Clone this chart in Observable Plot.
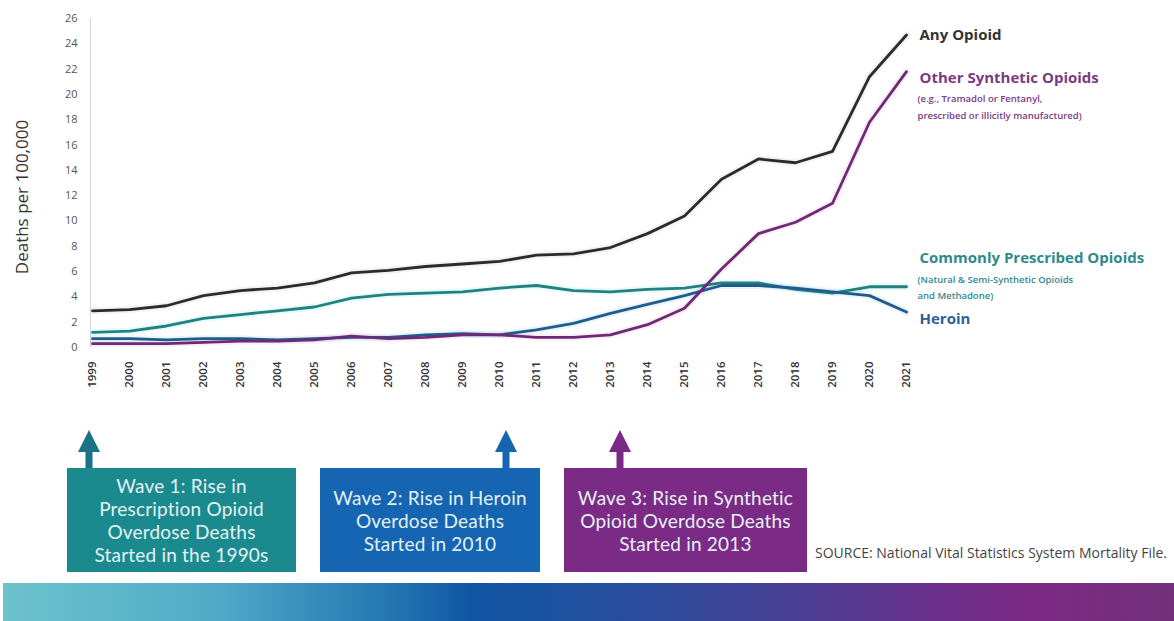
<!DOCTYPE html>
<html><head><meta charset="utf-8">
<script src="https://cdn.jsdelivr.net/npm/d3@7"></script>
<script src="https://cdn.jsdelivr.net/npm/@observablehq/plot@0.6"></script>
<style>
body{margin:0;background:#fff;font-family:"Open Sans",sans-serif;}
#wrap{position:relative;width:1174px;height:621px;overflow:hidden;background:#fff;}
#chart{position:absolute;left:0;top:0;}
#arrows{position:absolute;left:0;top:0;}
.box{position:absolute;top:468px;height:104px;color:#e4f2f4;display:flex;align-items:center;justify-content:center;text-align:center;font-family:Lato,sans-serif;font-size:19px;line-height:23px;letter-spacing:0.2px;}
#source{position:absolute;left:815px;top:543px;font-size:14px;color:#444;white-space:nowrap;letter-spacing:0px;}
#band{position:absolute;left:3px;right:0;top:583px;bottom:0;background:linear-gradient(90deg,#6cc3cd 0%,#52aac8 18%,#1f6fb0 35%,#0f56a2 40%,#2b4c9c 55%,#4a3e94 68%,#6b2f8a 80%,#7c2a84 88%,#74307c 100%);}
</style></head>
<body>
<div id="wrap">
  <div id="chart"></div>
  <svg id="arrows" width="1174" height="621"></svg>
  <div id="boxes"></div>
  <div id="source">SOURCE: National Vital Statistics System Mortality File.</div>
  <div id="band"></div>
</div>
<script>
// ---- data ----
const years = [1999,2000,2001,2002,2003,2004,2005,2006,2007,2008,2009,2010,2011,2012,2013,2014,2015,2016,2017,2018,2019,2020,2021];
const anyOpioid          = [2.9,3.0,3.3,4.1,4.5,4.7,5.1,5.9,6.1,6.4,6.6,6.8,7.3,7.4,7.9,9.0,10.4,13.3,14.9,14.6,15.5,21.4,24.7];
const otherSynthetic     = [0.3,0.3,0.3,0.4,0.5,0.5,0.6,0.9,0.7,0.8,1.0,1.0,0.8,0.8,1.0,1.8,3.1,6.2,9.0,9.9,11.4,17.8,21.8];
const commonlyPrescribed = [1.2,1.3,1.7,2.3,2.6,2.9,3.2,3.9,4.2,4.3,4.4,4.7,4.9,4.5,4.4,4.6,4.7,5.1,5.1,4.6,4.3,4.8,4.8];
const heroin             = [0.7,0.7,0.6,0.7,0.7,0.6,0.7,0.8,0.8,1.0,1.1,1.0,1.4,1.9,2.7,3.4,4.1,4.9,4.9,4.7,4.4,4.1,2.8];
const yTicks = [0,2,4,6,8,10,12,14,16,18,20,22,24,26];
const seriesNames = ["Commonly Prescribed Opioids","Heroin","Other Synthetic Opioids","Any Opioid"];
const seriesValues = [commonlyPrescribed, heroin, otherSynthetic, anyOpioid];
const subLabels = {
  "Other Synthetic Opioids": "(e.g., Tramadol or Fentanyl,\nprescribed or illicitly manufactured)",
  "Commonly Prescribed Opioids": "(Natural & Semi-Synthetic Opioids\nand Methadone)"
};
const yAxisLabel = "Deaths per 100,000";
const waves = [
  {year: 1999, text: "Wave 1: Rise in<br>Prescription Opioid<br>Overdose Deaths<br>Started in the 1990s"},
  {year: 2010, text: "Wave 2: Rise in Heroin<br>Overdose Deaths<br>Started in 2010"},
  {year: 2013, text: "Wave 3: Rise in Synthetic<br>Opioid Overdose Deaths<br>Started in 2013"}
];

// ---- styles ----
const lineColors = ["#23807f","#1f5b8c","#6d2a72","#2b2b2b"];
const labelColors = {"Any Opioid":"#333333","Other Synthetic Opioids":"#7a3a82","Commonly Prescribed Opioids":"#2f8a8e","Heroin":"#2d5f9c"};
const haloColors = {"Any Opioid":"#9a9a9a","Other Synthetic Opioids":"#e070d8","Commonly Prescribed Opioids":"#40e0e0","Heroin":"#50b0e0"};
const labelDy = {"Any Opioid":0,"Other Synthetic Opioids":7,"Commonly Prescribed Opioids":-29,"Heroin":7};
const subDy = {"Other Synthetic Opioids":19,"Commonly Prescribed Opioids":-16};
const waveStyle = [
  {left:67, width:229, fill:"#1b8a8f", arrow:"#1a7386", off:-3},
  {left:320, width:220, fill:"#1565b3", arrow:"#1565b0", off:7},
  {left:564, width:243, fill:"#7b2a86", arrow:"#7a2a85", off:10}
];

const rows = [];
seriesNames.forEach((s, k) => years.forEach((yr, i) => rows.push({series: s, year: yr, value: seriesValues[k][i]})));
const lasts = seriesNames.map((s, k) => ({series: s, year: years[years.length-1], value: seriesValues[k][years.length-1]}));

const plot = Plot.plot({
  width: 1174, height: 420,
  marginLeft: 92, marginRight: 268, marginTop: 18, marginBottom: 73,
  style: {fontFamily: "Open Sans, sans-serif", background: "transparent"},
  x: {domain: [1999, 2021]},
  y: {domain: [0, 26]},
  color: {domain: seriesNames, range: lineColors},
  marks: [
    Plot.ruleX([1999], {dx: -2, stroke: "#d6d6d6", strokeWidth: 1}),
    Plot.axisY({ticks: yTicks, tickSize: 0, tickPadding: 15, fontSize: 11, fill: "#555", label: null}),
    Plot.axisX({ticks: years, tickFormat: d => String(d), tickRotate: -90, tickSize: 0, tickPadding: 14, fontSize: 11.5, fill: "#333", fontWeight: 600, label: null}),
    Plot.text([yAxisLabel], {frameAnchor: "left", dx: -70, dy: 14, rotate: -90, fontSize: 17, fill: "#333", textAnchor: "middle"}),
    Plot.lineY(rows, {x: "year", y: "value", z: "series", stroke: d => haloColors[d.series], strokeWidth: 7, strokeOpacity: 0.12}),
    Plot.lineY(rows, {x: "year", y: "value", z: "series", stroke: "series", strokeWidth: 2.8, strokeLinejoin: "round"}),
    ...lasts.map(d => Plot.text([d], {x: "year", y: "value", text: "series", dx: 13, dy: labelDy[d.series], textAnchor: "start", fontSize: 15, fontWeight: 700, fill: labelColors[d.series]})),
    ...lasts.filter(d => subLabels[d.series]).map(d => Plot.text([d], {x: "year", y: "value", text: d => subLabels[d.series], dx: 11, dy: subDy[d.series], textAnchor: "start", lineAnchor: "top", lineHeight: 1.75, fontSize: 9.5, fontWeight: 600, fill: labelColors[d.series]}))
  ]
});
document.getElementById("chart").appendChild(plot);

// ---- wave boxes & arrows ----
const xs = plot.scale("x");
const svg = d3.select("#arrows");
const boxes = d3.select("#boxes");
waves.forEach((w, i) => {
  const st = waveStyle[i];
  const x = xs.apply(w.year) + st.off;
  svg.append("polygon").attr("points", `${x},430 ${x-11},452 ${x+11},452`).attr("fill", st.arrow);
  svg.append("rect").attr("x", x-3.5).attr("y", 450).attr("width", 7).attr("height", 19).attr("fill", st.arrow);
  boxes.append("div").attr("class", "box")
    .style("left", st.left + "px").style("width", st.width + "px").style("background", st.fill)
    .html(w.text);
});
</script>
</body></html>
